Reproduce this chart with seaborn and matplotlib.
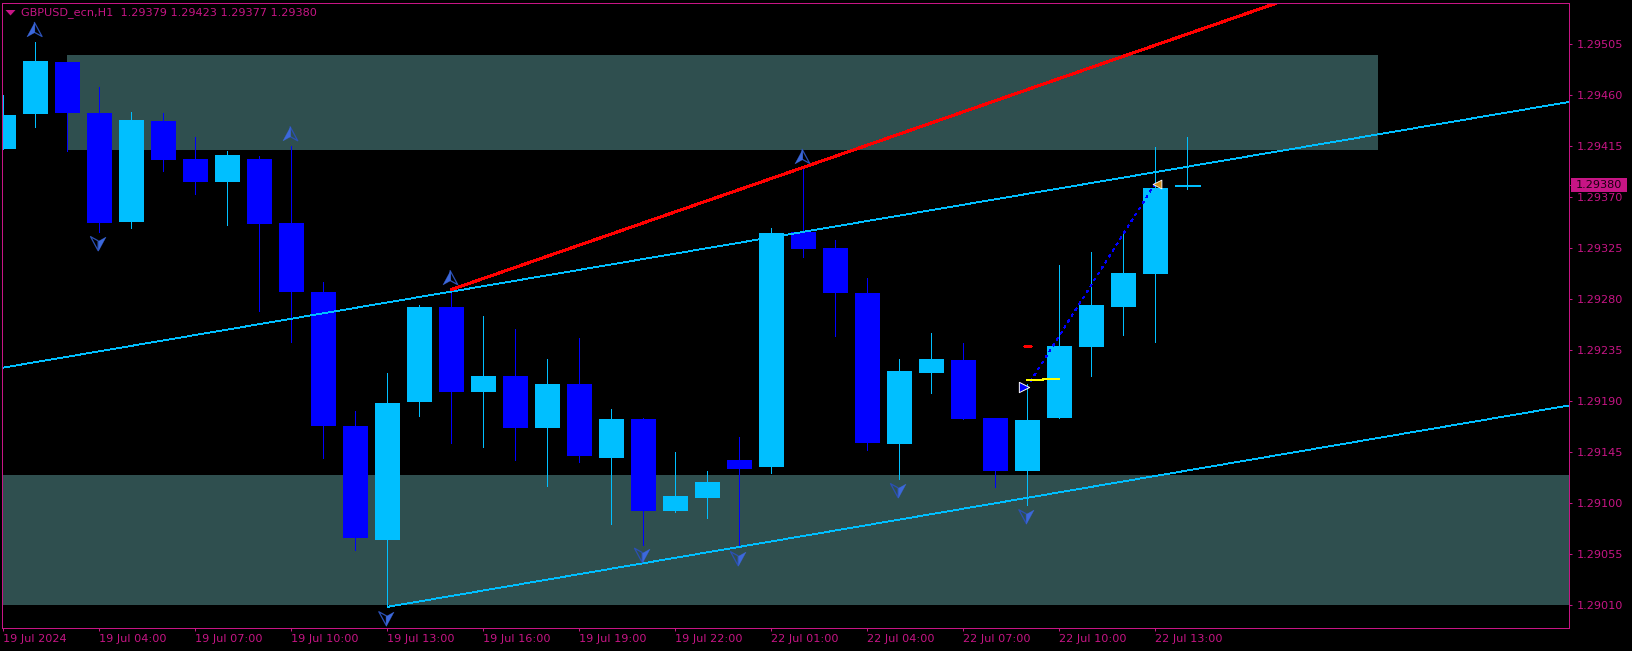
import numpy as np
import pandas as pd
import matplotlib
matplotlib.use("Agg")
import matplotlib.pyplot as plt
from matplotlib.path import Path
from matplotlib.patches import Rectangle
from matplotlib.transforms import blended_transform_factory
import seaborn as sns

# ---- data (prices) ----
opens = [1.29412,1.29443,1.29489,1.29444,1.29348,1.29437,1.29403,1.29383,1.29403,1.29347,
         1.29286,1.29168,1.29067,1.29189,1.29273,1.29198,1.29212,1.29166,1.29205,1.29139,
         1.29174,1.29093,1.29104,1.29138,1.29131,1.29339,1.29325,1.29285,1.29152,1.29214,
         1.29226,1.29175,1.29128,1.29175,1.29237,1.29273,1.29302,1.29379]
highs = [1.29460,1.29506,1.29489,1.29467,1.29445,1.29444,1.29423,1.29410,1.29406,1.29415,
         1.29295,1.29181,1.29214,1.29274,1.29288,1.29265,1.29253,1.29227,1.29245,1.29183,
         1.29175,1.29145,1.29128,1.29158,1.29342,1.29395,1.29332,1.29298,1.29227,1.29250,
         1.29241,1.29175,1.29205,1.29310,1.29321,1.29340,1.29414,1.29423]
lows  = [1.29412,1.29431,1.29410,1.29339,1.29342,1.29393,1.29372,1.29345,1.29269,1.29242,
         1.29139,1.29058,1.29008,1.29176,1.29153,1.29149,1.29138,1.29115,1.29136,1.29081,
         1.29063,1.29092,1.29086,1.29062,1.29126,1.29317,1.29247,1.29146,1.29121,1.29197,
         1.29174,1.29114,1.29098,1.29175,1.29212,1.29248,1.29242,1.29377]
closes= [1.29442,1.29490,1.29444,1.29347,1.29438,1.29402,1.29383,1.29407,1.29346,1.29286,
         1.29168,1.29069,1.29188,1.29273,1.29198,1.29212,1.29166,1.29205,1.29141,1.29174,
         1.29093,1.29106,1.29118,1.29130,1.29338,1.29324,1.29285,1.29153,1.29216,1.29227,
         1.29174,1.29128,1.29173,1.29238,1.29274,1.29303,1.29378,1.29380]

y_tick_values = [1.29505,1.29460,1.29415,1.29370,1.29325,1.29280,1.29235,1.29190,1.29145,1.29100,1.29055,1.29010]
x_tick_pos = [0,3,6,9,12,15,18,21,24,27,30,33,36]
x_tick_labels = ["19 Jul 2024","19 Jul 04:00","19 Jul 07:00","19 Jul 10:00","19 Jul 13:00",
                 "19 Jul 16:00","19 Jul 19:00","19 Jul 22:00","22 Jul 01:00","22 Jul 04:00",
                 "22 Jul 07:00","22 Jul 10:00","22 Jul 13:00"]
title_text = "GBPUSD_ecn,H1  1.29379 1.29423 1.29377 1.29380"
last_price = 1.29380

zone_upper = dict(x0=2.0, x1=42.97, y0=1.29411, y1=1.29495)
zone_lower = dict(y0=1.29010, y1=1.29124)

trend_upper_x = [-0.03, 48.94]; trend_upper_y = [1.292190, 1.294536]
trend_lower_x = [12.0, 48.94];  trend_lower_y = [1.29008, 1.291858]
trend_red_x = [14.0, 39.83];    trend_red_y = [1.29288, 1.295412]
zigzag_x = [32.1, 36.0];        zigzag_y = [1.29207, 1.29382]
yellow_a_x = [32.0, 32.5];      yellow_a_y = [1.29208, 1.29208]
yellow_b_x = [32.5, 33.0];      yellow_b_y = [1.29209, 1.29209]
red_tick_x = [31.9, 32.12];     red_tick_y = [1.29238, 1.29238]

arrow_up_x = [0.97, 8.96, 13.96, 24.96];  arrow_up_y = [1.29517, 1.29425, 1.29298, 1.29405]
arrow_dn_x = [2.96, 11.97, 19.96, 22.96, 27.96, 31.97]
arrow_dn_y = [1.29329, 1.28998, 1.29054, 1.29051, 1.29111, 1.29088]
start_x = [31.9];  start_y = [1.29202]
end_x = [36.05];   end_y = [1.29381]

# ---- style ----
BG, FRAME, ZONE = "#000000", "#C71585", "#2F4F4F"
LIGHT, DARK = "#00BFFF", "#0000FF"
sns.set_theme(style="dark", rc={"axes.facecolor": BG, "figure.facecolor": BG,
                                "savefig.facecolor": BG, "axes.grid": False})
plt.rcParams["font.family"] = ["DejaVu Sans"]
W, H = 1633, 651
PX = 0.72  # points per pixel at dpi 100
THIN = 0.6
fig = plt.figure(figsize=(W/100, H/100), dpi=100)
ax = fig.add_axes([2.4/W, (H-627.5-0.1)/H, 1567/W, 625/H])

o, h, l, c = map(np.array, (opens, highs, lows, closes))
idx = np.arange(len(o))
up = c >= o

# zones
ax.add_patch(Rectangle((zone_upper["x0"], zone_upper["y0"]), zone_upper["x1"]-zone_upper["x0"],
                       zone_upper["y1"]-zone_upper["y0"], fc=ZONE, ec="none", antialiased=False, zorder=1))
ax.axhspan(zone_lower["y0"], zone_lower["y1"], fc=ZONE, ec="none", antialiased=False, zorder=1)

# wicks
wicks = pd.DataFrame({"x": np.r_[idx, idx], "price": np.r_[h, l], "candle": np.r_[idx, idx],
                      "kind": np.r_[up, up]})
sns.lineplot(data=wicks, x="x", y="price", units="candle", estimator=None, hue="kind",
             palette={True: LIGHT, False: DARK}, lw=PX, legend=False, sort=False, ax=ax,
             antialiased=False, zorder=2)

# bodies
for mask, col in ((up, LIGHT), (~up, DARK)):
    bottoms = np.minimum(o, c)[mask]
    heights = np.abs(c - o)[mask]
    sns.barplot(x=idx[mask].astype(float), y=heights, bottom=bottoms, native_scale=True,
                width=25/32, color=col, saturation=1, errorbar=None, linewidth=0,
                antialiased=False, zorder=3, ax=ax)
for p in ax.patches:
    if 0 < p.get_height() < 2e-5 and p.get_width() < 1:
        p.set_edgecolor(p.get_facecolor())
        p.set_linewidth(0.6*PX)

# trend lines
for xs, ys, col, lw, extra in (
        (trend_upper_x, trend_upper_y, LIGHT, THIN, {}),
        (trend_lower_x, trend_lower_y, LIGHT, THIN, {}),
        (trend_red_x, trend_red_y, "#FF0000", 2*PX, {}),
        (zigzag_x, zigzag_y, DARK, THIN, {"linestyle": (0, (3, 5))}),
        (yellow_a_x, yellow_a_y, "#FFFF00", 2*PX, {}),
        (yellow_b_x, yellow_b_y, "#FFFF00", 2*PX, {}),
        (red_tick_x, red_tick_y, "#FF0000", 1.4*PX, {})):
    sns.lineplot(x=xs, y=ys, color=col, lw=lw, estimator=None, sort=False, ax=ax,
                 antialiased=False, zorder=5, **extra)

# arrow markers: one half filled, the other drawn as a dark outline
def arrow(point_up, side):
    s = 1 if point_up else -1
    sign = -1 if side == "left" else 1
    return Path([(0, s*1.0), (sign*1.0, -s*0.85), (0, -s*0.3), (0, s*1.0)], closed=True)

ARROW_S = 120
for xs, ys, is_up, fill_side, line_side in ((arrow_up_x, arrow_up_y, True, "left", "right"),
                                            (arrow_dn_x, arrow_dn_y, False, "right", "left")):
    sns.scatterplot(x=xs, y=ys, marker=arrow(is_up, line_side), s=ARROW_S, facecolor="none",
                    edgecolor="#2B50B5", linewidth=0.9, ax=ax, zorder=6)
    sns.scatterplot(x=xs, y=ys, marker=arrow(is_up, fill_side), s=ARROW_S, color="#3C68DC",
                    edgecolor="#3C68DC", linewidth=0.2, ax=ax, zorder=7)

# trade start / end markers
sns.scatterplot(x=start_x, y=start_y, marker=">", s=55, color=DARK, edgecolor="white",
                linewidth=0.7, ax=ax, zorder=8)
sns.scatterplot(x=end_x, y=end_y, marker="<", s=40, color="#CF8E1E", edgecolor="white",
                linewidth=0.6, ax=ax, zorder=8)

# axes
ax.set_xlim(-0.03125, 48.9375)
ax.set_ylim(1.289897, 1.295412)
ax.set_xlabel(""); ax.set_ylabel("")
ax.yaxis.tick_right()
ax.set_yticks(y_tick_values + [last_price])
ax.set_yticklabels([f"{v:.5f}" for v in y_tick_values] + [""])
ax.set_xticks(x_tick_pos)
ax.set_xticklabels(x_tick_labels, ha="left")
ax.tick_params(axis="both", which="major", color=FRAME, labelcolor=FRAME, length=3*PX,
               width=PX, labelsize=8.1, direction="out", bottom=True, right=True, left=False, top=False)
ax.tick_params(axis="y", pad=3.0)
ax.tick_params(axis="x", pad=2.2)
for sp in ax.spines.values():
    sp.set_visible(True); sp.set_color(FRAME); sp.set_linewidth(PX)
    sp.set_antialiased(False); sp.set_zorder(10)

# last price tag
tr = blended_transform_factory(fig.transFigure, ax.transData)
px_price = (1.295412 - 1.289897) / 625
ax.add_patch(Rectangle((1571/W, last_price - 7*px_price), 56/W, 14*px_price, transform=tr,
                       fc=FRAME, ec="none", clip_on=False, zorder=11, antialiased=False))
ax.text(1576.2/W, last_price, f"{last_price:.5f}", transform=tr, va="center", ha="left", fontsize=8.1,
        color="#1a0010", zorder=12, clip_on=False)

# header
fig.text(21.3/W, 1-12.7/H, title_text, color=FRAME, fontsize=8.1, va="center", ha="left")
ax.add_patch(plt.Polygon([(5.5/W, 1-10/H), (15.5/W, 1-10/H), (10.5/W, 1-15.5/H)], closed=True,
                         transform=fig.transFigure, fc=FRAME, ec="none", clip_on=False, zorder=12))

fig.savefig("out.png", dpi=100, facecolor=BG)
